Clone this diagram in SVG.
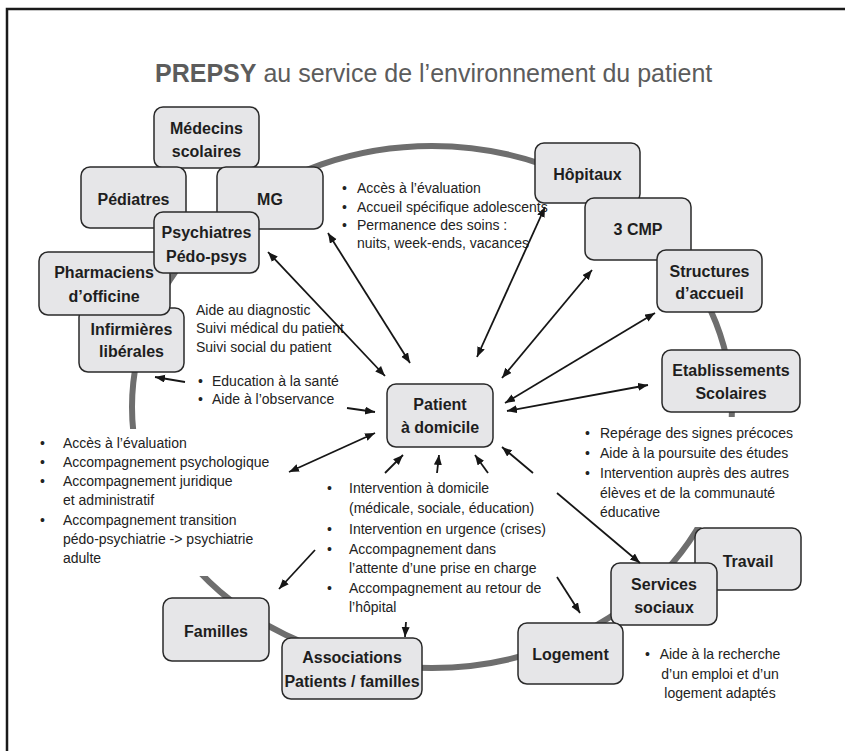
<svg xmlns="http://www.w3.org/2000/svg" width="845" height="751" viewBox="0 0 845 751">
<style>
text{font-family:"Liberation Sans",Arial,sans-serif;fill:#222}
.n rect{fill:#e6e6e8;stroke:#2a2a2a;stroke-width:1.5}
.n text{font-size:16px;font-weight:bold;text-anchor:middle;fill:#1e1e1e}
.t{font-size:14px}
.c line{stroke:#161616;stroke-width:1.8;fill:none}
.d{marker-start:url(#ah);marker-end:url(#ah)}
.s{marker-end:url(#ah)}
</style>
<defs>
<marker id="ah" markerUnits="userSpaceOnUse" markerWidth="11" markerHeight="9" refX="10" refY="4" orient="auto-start-reverse">
<path d="M0,0 L10,4 L0,8 z" fill="#161616"/>
</marker>
</defs>
<rect width="845" height="751" fill="#fff"/>
<path d="M7,751 V9 H845" fill="none" stroke="#1a1a1a" stroke-width="2.5"/>
<text x="155" y="82" font-size="25" style="fill:#5c5c5c"><tspan font-weight="bold">PREPSY</tspan> au service de l’environnement du patient</text>
<ellipse cx="432" cy="407" rx="300" ry="261" fill="none" stroke="#6e6e6e" stroke-width="6"/>
<rect x="20" y="429" width="280" height="147" fill="#fff"/>
<rect x="575" y="417" width="230" height="110" fill="#fff"/>
<g id="texts" class="t">
<text x="342" y="193">•</text><text x="357" y="193">Accès à l’évaluation</text>
<text x="342" y="212">•</text><text x="357" y="212">Accueil spécifique adolescents</text>
<text x="342" y="230">•</text><text x="357" y="230">Permanence des soins :</text>
<text x="357" y="248">nuits, week-ends, vacances</text>
<text x="196" y="315">Aide au diagnostic</text>
<text x="196" y="333">Suivi médical du patient</text>
<text x="196" y="352">Suivi social du patient</text>
<text x="198" y="386">•</text><text x="212" y="386">Education à la santé</text>
<text x="198" y="404">•</text><text x="212" y="404">Aide à l’observance</text>
<text x="40" y="448">•</text><text x="63" y="448">Accès à l’évaluation</text>
<text x="40" y="467">•</text><text x="63" y="467">Accompagnement psychologique</text>
<text x="40" y="486">•</text><text x="63" y="486">Accompagnement juridique</text>
<text x="63" y="505">et administratif</text>
<text x="40" y="525">•</text><text x="63" y="525">Accompagnement transition</text>
<text x="63" y="544">pédo-psychiatrie -&gt; psychiatrie</text>
<text x="63" y="563">adulte</text>
<text x="327" y="493">•</text><text x="349" y="493">Intervention à domicile</text>
<text x="349" y="513">(médicale, sociale, éducation)</text>
<text x="327" y="534">•</text><text x="349" y="534">Intervention en urgence (crises)</text>
<text x="327" y="554">•</text><text x="349" y="554">Accompagnement dans</text>
<text x="349" y="573">l’attente d’une prise en charge</text>
<text x="327" y="593">•</text><text x="349" y="593">Accompagnement au retour de</text>
<text x="349" y="612">l’hôpital</text>
<text x="585" y="438">•</text><text x="600" y="438">Repérage des signes précoces</text>
<text x="585" y="458">•</text><text x="600" y="458">Aide à la poursuite des études</text>
<text x="585" y="478">•</text><text x="600" y="478">Intervention auprès des autres</text>
<text x="600" y="498">élèves et de la communauté</text>
<text x="600" y="517">éducative</text>
<text x="645" y="659">•</text>
<text x="720" y="659" text-anchor="middle">Aide à la recherche</text>
<text x="720" y="679" text-anchor="middle">d’un emploi et d’un</text>
<text x="720" y="698" text-anchor="middle">logement adaptés</text>
</g>
<g id="nodes" class="n">
<g id="medecins"><rect x="154" y="107" width="105" height="61" rx="9"/><text x="206.5" y="134">Médecins</text><text x="206.5" y="157">scolaires</text></g>
<g id="pediatres"><rect x="81" y="167" width="105" height="61" rx="9"/><text x="133.5" y="205">Pédiatres</text></g>
<g id="mg"><rect x="217" y="167" width="106" height="62" rx="9"/><text x="270" y="205">MG</text></g>
<g id="infirmieres"><rect x="79" y="308" width="105" height="64" rx="9"/><text x="131.5" y="335">Infirmières</text><text x="131.5" y="357">libérales</text></g>
<g id="pharmaciens"><rect x="39" y="252" width="131" height="63" rx="9"/><text x="104" y="278">Pharmaciens</text><text x="104" y="302">d’officine</text></g>
<g id="psychiatres"><rect x="154" y="212" width="105" height="61" rx="9"/><text x="206.5" y="238">Psychiatres</text><text x="206.5" y="262">Pédo-psys</text></g>
<g id="hopitaux"><rect x="535" y="143" width="105" height="60" rx="9"/><text x="587.5" y="180">Hôpitaux</text></g>
<g id="cmp"><rect x="585" y="198" width="106" height="62" rx="9"/><text x="638" y="235">3 CMP</text></g>
<g id="structures"><rect x="657" y="250" width="105" height="62" rx="9"/><text x="709.5" y="277">Structures</text><text x="709.5" y="299">d’accueil</text></g>
<g id="etablissements"><rect x="662" y="350" width="138" height="62" rx="9"/><text x="731" y="376">Etablissements</text><text x="731" y="399">Scolaires</text></g>
<g id="travail"><rect x="695" y="528" width="106" height="62" rx="9"/><text x="748" y="567">Travail</text></g>
<g id="services"><rect x="611" y="563" width="106" height="62" rx="9"/><text x="664" y="590">Services</text><text x="664" y="613">sociaux</text></g>
<g id="logement"><rect x="518" y="623" width="105" height="61" rx="9"/><text x="570.5" y="660">Logement</text></g>
<g id="familles"><rect x="163" y="598" width="106" height="63" rx="9"/><text x="216" y="637">Familles</text></g>
<g id="associations"><rect x="282" y="638" width="140" height="61" rx="9"/><text x="352" y="663">Associations</text><text x="352" y="687">Patients / familles</text></g>
<g id="patient"><rect x="387" y="384" width="106" height="63" rx="9"/><text x="440" y="410">Patient</text><text x="440" y="433">à domicile</text></g>
</g>
<g id="connectors" class="c">
<line class="d" x1="328" y1="233" x2="410" y2="363"/>
<line class="d" x1="268" y1="252" x2="385" y2="376"/>
<line class="d" x1="545" y1="207" x2="477" y2="357"/>
<line class="d" x1="592" y1="270" x2="502" y2="378"/>
<line class="d" x1="655" y1="313" x2="505" y2="403"/>
<line class="d" x1="648" y1="385" x2="507" y2="411"/>
<line class="s" x1="185" y1="382" x2="155" y2="377"/>
<line class="s" x1="347" y1="408" x2="375" y2="412"/>
<line class="d" x1="289" y1="472" x2="375" y2="433"/>
<line class="s" x1="385" y1="473" x2="403" y2="455"/>
<line class="s" x1="437" y1="473" x2="439" y2="455"/>
<line class="s" x1="488" y1="473" x2="475" y2="455"/>
<line class="s" x1="533" y1="473" x2="502" y2="447"/>
<line class="s" x1="557" y1="493" x2="640" y2="563"/>
<line class="s" x1="557" y1="577" x2="580" y2="613"/>
<line class="s" x1="315" y1="550" x2="279" y2="589"/>
<line class="s" x1="406" y1="622" x2="405" y2="637"/>
</g>
</svg>
